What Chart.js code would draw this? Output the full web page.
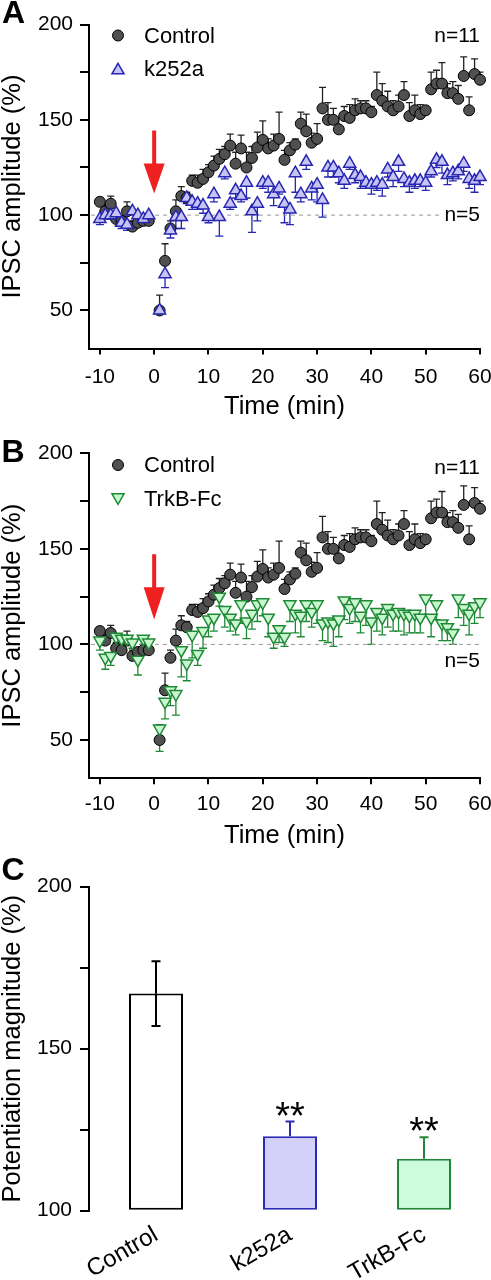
<!DOCTYPE html>
<html lang="en">
<head>
<meta charset="UTF-8">
<title>IPSC potentiation - k252a / TrkB-Fc</title>
<script src="https://cdn.jsdelivr.net/npm/chart.js"></script>
<style>
  body { margin: 0; background: #fff; }
  canvas { position: absolute; left: 0; }
</style>
</head>
<body>
<canvas id="chartA" style="top:0px" width="491" height="425"></canvas>
<canvas id="chartB" style="top:425px" width="491" height="425"></canvas>
<canvas id="chartC" style="top:850px" width="491" height="430"></canvas>

<script>
// time points (min); 0 = stimulation, no sample there
const time = [-10, -9, -8, -7, -6, -5, -4, -3, -2, -1,
    1, 2, 3, 4, 5, 6, 7, 8, 9, 10, 11, 12, 13, 14, 15, 16, 17, 18, 19, 20,
    21, 22, 23, 24, 25, 26, 27, 28, 29, 30, 31, 32, 33, 34, 35, 36, 37, 38, 39, 40,
    41, 42, 43, 44, 45, 46, 47, 48, 49, 50, 51, 52, 53, 54, 55, 56, 57, 58, 59, 60];

const controlMean = [107, 102, 106, 98, 97, 102, 94, 96, 97, 97,
    50, 76, 93, 102, 110, 109, 118, 117,
    119, 122.5, 126, 129.5, 132, 136.5, 127, 135, 125, 130, 135.5, 139.5, 135, 136.5, 140, 129, 134, 137, 148, 144, 138, 140, 156, 150, 150, 145, 152, 151,
    155, 156, 156, 154, 163, 160, 157, 155, 157, 163, 152, 155, 153, 155, 166, 169, 169, 164, 164, 161, 173, 155, 174, 171];
const controlSem = [2, 3, 4, 3, 2, 5, 3, 2, 3, 2,
    8, 9, 4, 6, 5, 3, 3, 4,
    5, 4, 5, 5, 4, 6, 6, 7, 8, 6, 8, 10, 5, 6, 14, 5, 4, 3, 6, 9, 5, 8, 11, 9, 6, 6, 5, 7,
    6, 4, 4, 3, 12, 9, 8, 5, 6, 7, 7, 8, 5, 2, 9, 7, 11, 5, 6, 7, 10, 7, 8, 4];

const k252aMean = [98, 100, 100, 101, 96, 95, 102, 100, 98, 100,
    50, 69, 92, 99, 99, 109, 107, 106,
    105, 99, 111, 99, 122, 106, 113, 110, 117, 102, 106, 117, 117, 111, 114, 106, 103, 122, 111, 128, 114, 116, 108, 125, 125, 122, 118, 127,
    121, 120, 117, 116, 117, 116, 124, 120, 128, 119, 117, 118, 118, 117, 123, 129, 128, 121, 122, 123, 127, 119, 118, 120];
const k252aSem = [3, 2, 2, 3, 3, 3, 2, 3, 3, 3,
    1, 7, 4, 6, 6, 3, 4, 3,
    4, 3, 4, 10, 3, 3, 4, 3, 8, 11, 9, 3, 5, 6, 3, 10, 8, 10, 4, 4, 6, 9, 9, 5, 5, 5, 4, 3,
    4, 6, 3, 5, 4, 6, 4, 5, 5, 4, 5, 4, 3, 4, 3, 4, 6, 5, 4, 4, 4, 5, 6, 4];

const trkbMean = [102, 93, 94, 104, 103, 103, 101, 92, 103, 101,
    56, 70, 76, 74, 97, 90, 105, 95,
    107, 113, 114, 125, 118, 114, 111, 121, 112, 116, 121, 122, 114, 104, 108, 104, 121, 116, 115, 121, 117, 121, 111, 112, 111, 113, 123, 119,
    122, 115, 121, 112, 117, 114, 119, 116, 117, 116, 115, 116, 114, 124, 114, 121, 111, 109, 106, 124, 119, 116, 120, 122];
const trkbSem = [5, 6, 5, 4, 3, 3, 3, 8, 3, 4,
    12, 9, 8, 11, 14, 9, 12, 6,
    9, 9, 7, 5, 9, 7, 6, 10, 9, 8, 9, 7, 10, 6, 7, 5, 9, 10, 11, 9, 8, 10, 9, 11, 12, 9, 10, 8,
    10, 9, 11, 12, 10, 9, 10, 9, 10, 11, 9, 10, 8, 9, 10, 8, 9, 7, 6, 10, 9, 11, 9, 8];

const timeTicks = [-10, 0, 10, 20, 30, 40, 50, 60];
const ampTicks = [50, 75, 100, 125, 150, 175, 200];

// panel C
const barLabels = ['Control', 'k252a', 'TrkB-Fc'];
const barMean = [167, 123, 116];
const barSemUp = [10, 4.5, 6.7];
const barSemDown = [10, 0, 0];
const barStars = ['', '**', '**'];
const potTicks = [100, 125, 150, 175, 200];

const FONT = '"Liberation Sans", Arial, Helvetica, sans-serif';
Chart.defaults.font.family = FONT;
Chart.defaults.color = '#000';

const controlStyle = {shape: 'circle', r: 5.5, rot: 0, fill: '#505050', line: '#000000', width: 1};
const k252aStyle = {shape: 'triangle', r: 7, rot: 0, fill: '#c6c4f4', line: '#2626b2', width: 1.5};
const trkbStyle = {shape: 'triangle', r: 7, rot: 180, fill: '#c8f6cf', line: '#1f8a36', width: 1.5};

// in-plot legend per canvas (read directly, not through chart.js option proxies)
const legends = {
    chartA: [{label: 'Control', style: controlStyle, y: 35.5, shift: 0},
             {label: 'k252a', style: k252aStyle, y: 68.5, shift: 1.75}],
    chartB: [{label: 'Control', style: controlStyle, y: 40, shift: 0},
             {label: 'TrkB-Fc', style: trkbStyle, y: 74, shift: -1.75}]
};

// legend marker, same geometry chart.js uses for its points
function drawMarker(ctx, st, x, y) {
    ctx.save();
    ctx.beginPath();
    if (st.shape === 'triangle') {
        let a = st.rot * Math.PI / 180;
        for (let k = 0; k < 3; k++) {
            const px = x + Math.sin(a) * st.r, py = y - Math.cos(a) * st.r;
            if (k === 0) ctx.moveTo(px, py); else ctx.lineTo(px, py);
            a += 2 * Math.PI / 3;
        }
        ctx.closePath();
    } else {
        ctx.moveTo(x + st.r, y);
        ctx.arc(x, y, st.r, 0, Math.PI * 2, false);
        ctx.closePath();
    }
    ctx.fillStyle = st.fill;
    ctx.strokeStyle = st.line;
    ctx.lineWidth = st.width;
    ctx.fill();
    ctx.stroke();
    ctx.restore();
}

function drawErrors(chart) {
    const ctx = chart.ctx, ys = chart.scales.y;
    chart.data.datasets.forEach((ds, i) => {
        if (!ds.errUp && !ds.errDown) return;
        const meta = chart.getDatasetMeta(i);
        meta.data.forEach((el, j) => {
            const raw = ds.data[j];
            const v = typeof raw === 'object' ? raw.y : raw;
            ctx.save();
            ctx.strokeStyle = Array.isArray(ds.errColor) ? ds.errColor[j] : ds.errColor;
            ctx.lineWidth = ds.errWidth;
            [[ds.errUp, 1], [ds.errDown, -1]].forEach(([arr, s]) => {
                if (!arr || !arr[j]) return;
                const y0 = ys.getPixelForValue(v);
                const y1 = ys.getPixelForValue(v + s * arr[j]);
                ctx.beginPath();
                ctx.moveTo(el.x, y0);
                ctx.lineTo(el.x, y1);
                ctx.moveTo(el.x - ds.errCap, y1);
                ctx.lineTo(el.x + ds.errCap, y1);
                ctx.stroke();
            });
            ctx.restore();
        });
    });
}

const errorBars = {
    id: 'errorBars',
    beforeDatasetsDraw(chart, args, opts) { if (!opts.onTop) drawErrors(chart); },
    afterDatasetsDraw(chart, args, opts) { if (opts.onTop) drawErrors(chart); }
};

// panel letter, legend, n labels, arrow, baseline, stars
const decor = {
    id: 'decor',
    beforeDatasetsDraw(chart, args, o) {
        if (o.dashTo === undefined) return;
        const {ctx, chartArea: a, scales: {x, y}} = chart;
        const yy = y.getPixelForValue(100);
        ctx.save();
        ctx.strokeStyle = '#9a9a9a';
        ctx.lineWidth = 1;
        ctx.setLineDash([4, 4]);
        ctx.beginPath();
        ctx.moveTo(a.left + 2, yy);
        ctx.lineTo(x.getPixelForValue(o.dashTo), yy);
        ctx.stroke();
        ctx.restore();
    },
    afterDraw(chart, args, o) {
        const {ctx, chartArea: a, scales: {x, y}} = chart;
        ctx.save();
        ctx.fillStyle = '#000';
        ctx.textBaseline = 'alphabetic';
        ctx.font = 'bold 32px ' + FONT;
        ctx.fillText(o.letter, o.letterX, o.letterY);

        const items = legends[chart.canvas.id];
        if (items) {
            items.forEach(item => {
                drawMarker(ctx, item.style, 118, item.y + item.shift);
                ctx.save();
                ctx.font = '22px ' + FONT;
                ctx.textBaseline = 'middle';
                ctx.fillStyle = '#000';
                ctx.fillText(item.label, 144, item.y + 1);
                ctx.restore();
            });
        }
        if (o.notes) {
            ctx.font = '21px ' + FONT;
            ctx.textAlign = 'right';
            ctx.textBaseline = 'middle';
            o.notes.forEach(n => ctx.fillText(n.text, a.right, y.getPixelForValue(n.value)));
        }
        if (o.arrow) {
            const ax = x.getPixelForValue(o.arrow.x);
            const y0 = y.getPixelForValue(o.arrow.from);
            const y1 = y.getPixelForValue(o.arrow.head);
            const y2 = y.getPixelForValue(o.arrow.to);
            ctx.fillStyle = '#ee2020';
            ctx.fillRect(ax - 2, y0, 4, y1 - y0 + 1);
            ctx.beginPath();
            ctx.moveTo(ax - 10.5, y1);
            ctx.lineTo(ax + 10.5, y1);
            ctx.lineTo(ax, y2);
            ctx.closePath();
            ctx.fill();
        }
        if (o.stars) {
            const ds = chart.data.datasets[0];
            const meta = chart.getDatasetMeta(0);
            ctx.font = '38px ' + FONT;
            ctx.textAlign = 'center';
            ctx.textBaseline = 'alphabetic';
            ctx.fillStyle = '#000';
            o.stars.forEach((s, j) => {
                if (!s) return;
                const top = y.getPixelForValue(ds.data[j] + ds.errUp[j]);
                ctx.fillText(s, meta.data[j].x, top - 15 + 22);
            });
        }
        ctx.restore();
    }
};

// keep chart.js from widening the plot for the edge tick labels
function noEdgePad(s) {
    s.paddingLeft = 0;
    s.paddingRight = 0;
    s.paddingTop = 0;
    s.paddingBottom = 0;
}

function timeChart(id, drug, geo, deco) {
    const st = drug.style;
    return new Chart(document.getElementById(id), {
        type: 'scatter',
        data: {
            datasets: [{
                label: 'Control',
                data: time.map((t, i) => ({x: t, y: controlMean[i]})),
                pointStyle: 'circle',
                pointRadius: controlStyle.r,
                pointBackgroundColor: controlStyle.fill,
                pointBorderColor: controlStyle.line,
                pointBorderWidth: controlStyle.width,
                errUp: controlSem,
                errColor: '#222',
                errWidth: 1.3,
                errCap: 3.5,
                order: 2,
                clip: false
            }, {
                label: drug.label,
                data: time.map((t, i) => ({x: t, y: drug.mean[i]})),
                pointStyle: 'triangle',
                pointRadius: st.r,
                pointRotation: st.rot,
                pointBackgroundColor: st.fill,
                pointBorderColor: st.line,
                pointBorderWidth: st.width,
                errDown: drug.sem,
                errColor: st.line,
                errWidth: 1.3,
                errCap: 4,
                order: 1,
                clip: false
            }]
        },
        options: {
            responsive: false,
            animation: false,
            events: [],
            devicePixelRatio: 1,
            layout: {padding: {top: geo.top, right: 11, bottom: 0, left: 0}},
            plugins: {
                legend: {display: false},
                tooltip: {enabled: false},
                errorBars: {onTop: false},
                decor: deco
            },
            scales: {
                x: {
                    type: 'linear',
                    min: -12,
                    max: 60,
                    afterBuildTicks: s => { s.ticks = timeTicks.map(v => ({value: v})); },
                    afterFit: s => { s.height = geo.xHeight; noEdgePad(s); },
                    border: {color: '#000', width: 2},
                    grid: {drawOnChartArea: false, drawTicks: true, tickLength: 6, color: '#000', lineWidth: 2},
                    ticks: {font: {size: 21}, padding: geo.xPad, maxRotation: 0, autoSkip: false, color: '#000'},
                    title: {display: true, text: 'Time (min)', color: '#000',
                        font: {size: 25.5, lineHeight: 1}, padding: {top: 0, bottom: geo.titlePad}}
                },
                y: {
                    min: 30,
                    max: 200,
                    afterBuildTicks: s => { s.ticks = ampTicks.map(v => ({value: v})); },
                    afterFit: s => { s.width = 89; noEdgePad(s); },
                    border: {color: '#000', width: 2},
                    grid: {drawOnChartArea: false, drawTicks: true, tickLength: 9, color: '#000', lineWidth: 2},
                    ticks: {font: {size: 21}, padding: 7, color: '#000', autoSkip: false,
                        callback: v => (v % 50 === 0 ? v : '')},
                    title: {display: true, text: 'IPSC amplitude (%)', color: '#000',
                        font: {size: 25.5, lineHeight: 1}, padding: 0}
                }
            }
        },
        plugins: [errorBars, decor]
    });
}

timeChart('chartA',
    {label: 'k252a', mean: k252aMean, sem: k252aSem, style: k252aStyle},
    {top: 24.5, xHeight: 76.4, xPad: 10, titlePad: 5.5},
    {
        letter: 'A', letterX: 2, letterY: 22.7,
        notes: [{text: 'n=11', value: 193.6}, {text: 'n=5', value: 100}],
        arrow: {x: 0, from: 144.4, head: 127.1, to: 111.4},
        dashTo: 52.6
    });

timeChart('chartB',
    {label: 'TrkB-Fc', mean: trkbMean, sem: trkbSem, style: trkbStyle},
    {top: 28.3, xHeight: 71.8, xPad: 7.5, titlePad: 1},
    {
        letter: 'B', letterX: 1.5, letterY: 36.7,
        notes: [{text: 'n=11', value: 192.3}, {text: 'n=5', value: 91.3}],
        arrow: {x: 0, from: 147.2, head: 129.9, to: 113.1},
        dashTo: 60
    });

new Chart(document.getElementById('chartC'), {
    type: 'bar',
    data: {
        labels: barLabels,
        datasets: [{
            data: barMean,
            base: 100,
            backgroundColor: ['#ffffff', '#d3d0fa', '#cdfcdd'],
            borderColor: ['#000000', '#2a2ab4', '#23843a'],
            borderWidth: 2,
            borderSkipped: false,
            barPercentage: 0.403,
            categoryPercentage: 1,
            errUp: barSemUp,
            errDown: barSemDown,
            errColor: ['#000000', '#2a2ab4', '#23843a'],
            errWidth: 2,
            errCap: 4.5,
            clip: false
        }]
    },
    options: {
        responsive: false,
        animation: false,
        events: [],
        devicePixelRatio: 1,
        layout: {padding: {top: 36.7, right: 0, bottom: 0, left: 0}},
        plugins: {
            legend: {display: false},
            tooltip: {enabled: false},
            errorBars: {onTop: true},
            decor: {letter: 'C', letterX: 1.5, letterY: 29.5, stars: barStars}
        },
        scales: {
            x: {
                afterFit: s => { s.height = 69.3; noEdgePad(s); },
                border: {display: false},
                grid: {display: false, drawTicks: false},
                ticks: {font: {size: 24}, minRotation: 30, maxRotation: 30, autoSkip: false, padding: 10, color: '#000'}
            },
            y: {
                min: 100,
                max: 200,
                afterBuildTicks: s => { s.ticks = potTicks.map(v => ({value: v})); },
                afterFit: s => { s.width = 89; noEdgePad(s); },
                border: {color: '#000', width: 2},
                grid: {drawOnChartArea: false, drawTicks: true, tickLength: 9, color: '#000', lineWidth: 2},
                ticks: {font: {size: 21}, padding: 8, color: '#000', autoSkip: false,
                    callback: v => (v % 50 === 0 ? v : '')},
                title: {display: true, text: 'Potentiation magnitude (%)', color: '#000',
                    font: {size: 25.5, lineHeight: 1}, padding: 0}
            }
        }
    },
    plugins: [errorBars, decor]
});
</script>
</body>
</html>
